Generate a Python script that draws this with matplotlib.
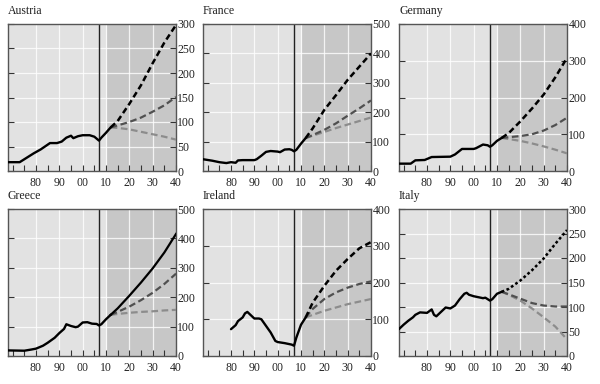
import matplotlib
matplotlib.use("Agg")
import matplotlib.pyplot as plt

plt.rcParams['font.family'] = ['Liberation Serif', 'DejaVu Serif']

proj_years = [2012, 2015, 2020, 2025, 2030, 2035, 2040]

# Austria
aus_years = [1968, 1973, 1976, 1979, 1982, 1986, 1989, 1991, 1993, 1995, 1996, 1998,
             2000, 2003, 2005, 2007, 2008, 2010, 2012]
aus_hist = [18, 18, 27, 36, 44, 57, 57, 60, 68, 72, 67, 71, 73, 73, 70, 62, 68, 78, 89]
aus_base = [89, 102, 137, 175, 220, 262, 298]
aus_mid = [89, 93, 100, 109, 121, 134, 151]
aus_low = [89, 88, 85, 80, 75, 70, 64]

# France
fra_years = [1968, 1972, 1975, 1978, 1980, 1982, 1983, 1985, 1990, 1991, 1993, 1995,
             1997, 2000, 2001, 2003, 2005, 2006, 2007, 2008, 2010, 2012]
fra_hist = [40, 35, 30, 27, 30, 28, 36, 37, 37, 40, 52, 65, 68, 66, 64, 73, 74, 72, 67,
            72, 93, 112]
fra_base = [112, 145, 208, 258, 310, 355, 400]
fra_mid = [112, 122, 140, 162, 188, 213, 240]
fra_low = [112, 120, 133, 146, 158, 170, 182]

# Germany
deu_years = [1968, 1973, 1975, 1979, 1982, 1990, 1992, 1995, 2000, 2001, 2004, 2006,
             2007, 2008, 2010, 2012]
deu_hist = [20, 20, 29, 30, 38, 39, 45, 60, 60, 62, 72, 70, 66, 70, 82, 90]
deu_base = [90, 103, 135, 170, 208, 255, 308]
deu_mid = [90, 92, 95, 100, 110, 125, 145]
deu_low = [90, 87, 82, 75, 67, 58, 48]

# Greece
grc_years = [1968, 1975, 1978, 1980, 1983, 1985, 1988, 1990, 1992, 1993, 1995, 1997,
             1998, 2000, 2002, 2004, 2006, 2007, 2008, 2010, 2012]
grc_hist = [19, 18, 22, 25, 35, 45, 62, 78, 92, 108, 102, 98, 100, 114, 115, 110, 109,
            104, 108, 125, 140]
grc_base = [140, 162, 205, 250, 298, 352, 415]
grc_mid = [140, 150, 168, 190, 215, 245, 280]
grc_low = [140, 143, 147, 150, 152, 155, 157]

# Ireland
irl_years = [1980, 1982, 1983, 1985, 1986, 1987, 1988, 1990, 1992, 1993, 1995, 1997,
             1999, 2000, 2003, 2006, 2007, 2008, 2010, 2012]
irl_hist = [73, 84, 95, 105, 116, 120, 114, 102, 102, 100, 82, 64, 41, 38, 35, 31, 28,
            50, 85, 105]
irl_base = [105, 145, 191, 232, 264, 293, 310]
irl_mid = [105, 128, 155, 173, 186, 196, 203]
irl_low = [105, 112, 123, 132, 141, 148, 155]

# Italy
ita_years = [1968, 1970, 1972, 1974, 1975, 1977, 1980, 1982, 1983, 1984, 1986, 1988,
             1990, 1992, 1994, 1996, 1997, 1998, 2000, 2002, 2004, 2005, 2006, 2007,
             2008, 2010, 2012]
ita_hist = [55, 64, 72, 79, 84, 89, 88, 95, 84, 81, 90, 99, 97, 103, 116, 127, 129, 125,
            122, 120, 118, 119, 116, 113, 116, 127, 131]
ita_base = [131, 137, 154, 175, 199, 229, 257]
ita_mid = [131, 126, 117, 108, 103, 101, 101]
ita_low = [131, 125, 113, 97, 79, 60, 34]

titles = ['Austria', 'France', 'Germany', 'Greece', 'Ireland', 'Italy']
ymaxes = [300, 500, 400, 500, 400, 300]
ysteps = [50, 100, 100, 100, 100, 50]
base_styles = ['dashed', 'dashed', 'dashed', 'solid', 'dashed', 'dotted']

panels = [
    (aus_years, aus_hist, aus_base, aus_mid, aus_low),
    (fra_years, fra_hist, fra_base, fra_mid, fra_low),
    (deu_years, deu_hist, deu_base, deu_mid, deu_low),
    (grc_years, grc_hist, grc_base, grc_mid, grc_low),
    (irl_years, irl_hist, irl_base, irl_mid, irl_low),
    (ita_years, ita_hist, ita_base, ita_mid, ita_low),
]

lefts = [8, 203, 399]
width = 168
tops = [24, 209]
height = 147

fig = plt.figure(figsize=(6, 3.84), dpi=100)

for i, (yrs, hist, base, mid, low) in enumerate(panels):
    row, col = divmod(i, 3)
    x0 = lefts[col] / 600
    y0 = 1 - (tops[row] + height) / 384
    ax = fig.add_axes([x0, y0, width / 600, height / 384])

    ymax = ymaxes[i]
    ax.set_xlim(1968, 2040)
    ax.set_ylim(0, ymax)

    ax.axvspan(1968, 2010.6, color='#e2e2e2', lw=0, zorder=0)
    ax.axvspan(2010.6, 2040, color='#c7c7c7', lw=0, zorder=0)
    for gx in range(1980, 2040, 10):
        ax.axvline(gx, color='white', lw=0.9, alpha=0.8, zorder=1)
    for gy in range(ysteps[i], ymax, ysteps[i]):
        ax.axhline(gy, color='white', lw=0.9, alpha=0.8, zorder=1)
    ax.axvline(2007, color='#222222', lw=1.0, zorder=2)

    ax.plot(proj_years, low, color='#8c8c8c', lw=1.6, dashes=(3, 1.6), zorder=3)
    ax.plot(proj_years, mid, color='#505050', lw=1.6, dashes=(3, 1.6), zorder=4)
    if base_styles[i] == 'solid':
        ax.plot(proj_years, base, color='black', lw=1.6, zorder=5)
    elif base_styles[i] == 'dotted':
        ax.plot(proj_years, base, color='black', lw=1.8, dashes=(1.1, 1.0), zorder=5)
    else:
        ax.plot(proj_years, base, color='black', lw=1.8, dashes=(2.4, 1.4), zorder=5)
    ax.plot(yrs, hist, color='black', lw=1.7, zorder=6, solid_capstyle='round')

    ax.set_xticks(range(1970, 2041, 5))
    ax.set_xticklabels(['' if (t % 10 or t < 1980) else '%02d' % (t % 100)
                        for t in range(1970, 2041, 5)])
    ax.set_yticks(range(0, ymax + 1, ysteps[i]))
    ax.tick_params(axis='x', direction='in', length=4, width=0.8, color='#333333',
                   labelsize=8.5, pad=4.5, labelcolor='#222222')
    ax.tick_params(axis='y', direction='in', length=4, width=0.8, color='#333333',
                   left=True, right=True, labelleft=False, labelright=True,
                   labelsize=8.5, pad=1, labelcolor='#222222')
    for s in ax.spines.values():
        s.set_color('#555555')
        s.set_linewidth(1.0)

    ax.text(0, 1.05, titles[i], transform=ax.transAxes, fontsize=8.5,
            ha='left', va='bottom', color='#222222')

fig.savefig('out.png', dpi=100)
